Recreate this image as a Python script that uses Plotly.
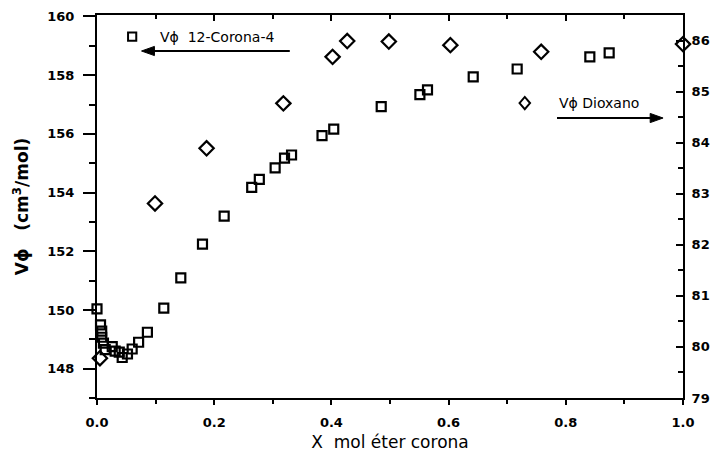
import plotly.graph_objects as go

# Apparent molar volume of 12-crown-4 (left axis, cm3/mol)
x_corona = [0.000, 0.006, 0.008, 0.008, 0.011, 0.014, 0.026, 0.031, 0.038, 0.043,
            0.052, 0.060, 0.071, 0.086, 0.114, 0.143, 0.180, 0.217, 0.264, 0.277,
            0.304, 0.320, 0.332, 0.384, 0.404, 0.485, 0.551, 0.564, 0.642, 0.717,
            0.841, 0.874]
v_corona = [150.04, 149.49, 149.28, 149.07, 148.87, 148.65, 148.75, 148.60, 148.56, 148.38,
            148.50, 148.67, 148.90, 149.24, 150.06, 151.09, 152.24, 153.20, 154.18, 154.45,
            154.84, 155.17, 155.28, 155.94, 156.16, 156.93, 157.34, 157.50, 157.94, 158.21,
            158.62, 158.76]

# Apparent molar volume of dioxane (right axis, cm3/mol)
x_dioxano = [0.005, 0.099, 0.187, 0.318, 0.402, 0.427, 0.498, 0.603, 0.758, 1.000]
v_dioxano = [79.78, 82.81, 83.89, 84.77, 85.68, 85.99, 85.98, 85.91, 85.78, 85.93]

x_ticks = [0.0, 0.2, 0.4, 0.6, 0.8, 1.0]
x_ticklabels = ["0.0", "0.2", "0.4", "0.6", "0.8", "1.0"]
y_left_ticks = [148, 150, 152, 154, 156, 158, 160]
y_right_ticks = [79, 80, 81, 82, 83, 84, 85, 86]


def bold(labels):
    return [f"<b>{t}</b>" for t in labels]


tick_font = dict(family="DejaVu Sans", size=13, color="black")
label_font = dict(family="DejaVu Sans", size=14, color="black")

fig = go.Figure()

fig.add_trace(go.Scatter(
    x=x_corona, y=v_corona, mode="markers", name="Vϕ 12-Corona-4",
    marker=dict(symbol="square-open", size=9, color="black", line=dict(width=2.2)),
    cliponaxis=False, xaxis="x", yaxis="y",
))
fig.add_trace(go.Scatter(
    x=x_dioxano, y=v_dioxano, mode="markers", name="Vϕ Dioxano",
    marker=dict(symbol="diamond-open", size=11, color="black", line=dict(width=2.2)),
    cliponaxis=False, xaxis="x2", yaxis="y2",
))

axis_common = dict(showgrid=False, zeroline=False, showline=True, linecolor="black",
                   linewidth=2, tickcolor="black", tickwidth=2, automargin=False)

fig.update_layout(
    width=712, height=456,
    margin=dict(l=97, r=29, t=15, b=58),
    paper_bgcolor="white", plot_bgcolor="white",
    showlegend=False,
    xaxis=dict(
        range=[0, 1], tickvals=x_ticks, ticktext=bold(x_ticklabels), ticks="outside",
        ticklen=5, tickfont=tick_font, ticklabelstandoff=6,
        minor=dict(dtick=0.1, ticks="outside", ticklen=4, tickcolor="black", tickwidth=2),
        title=dict(text="X  mol éter corona", font=dict(family="DejaVu Sans", size=17, color="black"),
                   standoff=8),
        **axis_common,
    ),
    xaxis2=dict(
        range=[0, 1], overlaying="x", side="top", anchor="y2", tickvals=x_ticks,
        ticks="inside", ticklen=6, showticklabels=False,
        minor=dict(dtick=0.1, ticks="inside", ticklen=4, tickcolor="black", tickwidth=2),
        **axis_common,
    ),
    yaxis=dict(
        range=[147, 160.05], tickvals=y_left_ticks,
        ticktext=bold([str(v) for v in y_left_ticks]), ticks="outside", ticklen=12,
        tickfont=tick_font, ticklabelstandoff=6,
        minor=dict(dtick=1, ticks="outside", ticklen=6, tickcolor="black", tickwidth=2),
        title=dict(text="<b>Vϕ   (cm<sup>3</sup>/mol)</b>",
                   font=dict(family="DejaVu Sans", size=17, color="black"),
                   standoff=14),
        **axis_common,
    ),
    yaxis2=dict(
        range=[79, 86.5], tickvals=y_right_ticks,
        ticktext=bold([str(v) for v in y_right_ticks]), overlaying="y", side="right",
        anchor="x", ticks="inside", ticklen=7, tickfont=tick_font, ticklabelstandoff=4,
        minor=dict(dtick=0.5, ticks="inside", ticklen=5, tickcolor="black", tickwidth=2),
        **axis_common,
    ),
)

# Series labels with direction arrows pointing to the axis each series uses
fig.add_shape(type="rect", xref="paper", yref="paper",
              x0=0.053, x1=0.067, y0=0.933, y1=0.954,
              line=dict(color="black", width=2))
fig.add_annotation(xref="paper", yref="paper", x=0.104, y=0.943, xanchor="left",
                   yanchor="middle", text="Vϕ  12-Corona-4", showarrow=False, font=label_font)
fig.add_shape(type="line", xref="paper", yref="paper", x0=0.085, x1=0.329, y0=0.906, y1=0.906,
              line=dict(color="black", width=2))
fig.add_shape(type="path", xref="paper", yref="paper",
              path="M 0.076 0.906 L 0.098 0.918 L 0.098 0.894 Z",
              fillcolor="black", line=dict(color="black", width=1))

fig.add_shape(type="path", xref="paper", yref="paper",
              path="M 0.721 0.770 L 0.730 0.786 L 0.739 0.770 L 0.730 0.754 Z",
              line=dict(color="black", width=2))
fig.add_annotation(xref="paper", yref="paper", x=0.785, y=0.770, xanchor="left",
                   yanchor="middle", text="Vϕ Dioxano", showarrow=False, font=label_font)
fig.add_shape(type="line", xref="paper", yref="paper", x0=0.785, x1=0.955, y0=0.731, y1=0.731,
              line=dict(color="black", width=2))
fig.add_shape(type="path", xref="paper", yref="paper",
              path="M 0.966 0.731 L 0.944 0.743 L 0.944 0.719 Z",
              fillcolor="black", line=dict(color="black", width=1))

fig.write_html("out.html")
